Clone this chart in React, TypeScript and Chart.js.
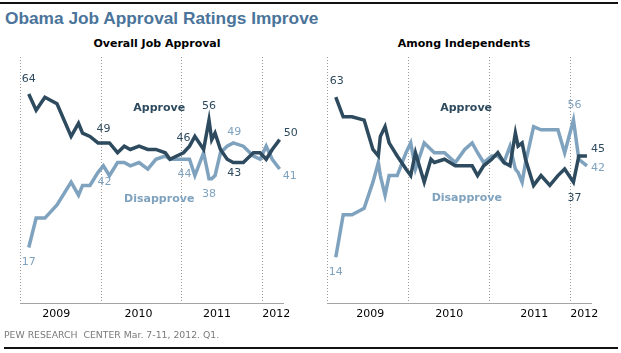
import React, { useEffect, useRef } from "react";
import { Chart, registerables } from "chart.js";
Chart.register(...registerables);

// ---- data (x = months since Jan 2009) ----
const yearLabels = ["2009", "2010", "2011", "2012"];
const yearBoundaries = [0, 12, 24, 36];
const overallYearTicks = [5.4, 17.6, 29.3, 38.1];
const indYearTicks = [6.4, 18.1, 30.7, 38.1];

const overallMonths = [1.3, 2.4, 3.7, 5.5, 7.6, 8.7, 9.3, 10.4, 11.6, 12.4, 13.3, 14.5, 15.5, 16.4, 17.7, 19.0, 20.2, 21.6, 22.3, 23.3, 24.3, 25.2, 26.0, 27.3, 28.1, 28.5, 29.0, 29.8, 30.8, 31.7, 33.2, 34.7, 35.7, 36.6, 37.5, 38.6];
const overallApprove = [64, 59, 63, 61, 51, 55, 52, 51, 49, 49, 49, 46, 48, 47, 48, 47, 47, 46, 44, 45, 46, 48, 51, 47, 56, 50, 52, 47, 44, 43, 43, 46, 46, 44, 47, 50];
const overallDisapprove = [17, 26, 26, 30, 37, 33, 36, 36, 40, 42, 39, 43, 43, 42, 43, 41, 44, 45, 44, 44, 44, 44, 39, 46, 38, 38, 39, 46, 48, 49, 48, 45, 44, 48, 44, 41];

const indMonths = [1.3, 2.4, 3.7, 5.5, 6.8, 7.6, 7.9, 8.6, 9.2, 10.4, 11.7, 12.4, 13.1, 14.4, 15.4, 15.9, 17.4, 19.0, 20.4, 21.5, 22.3, 23.2, 24.4, 25.3, 26.2, 27.1, 27.9, 28.3, 28.9, 29.4, 30.6, 31.7, 33.0, 34.2, 35.2, 36.5, 37.3, 38.5];
const indApprove = [63, 57, 57, 56, 47, 45, 51, 54, 49, 45, 41, 39, 46, 37, 44, 43, 44, 42, 42, 42, 39, 42, 44, 46, 43, 42, 52, 48, 49, 44, 36, 39, 36, 39, 41, 37, 45, 45];
const indDisapprove = [14, 27, 27, 29, 37, 43, 39, 33, 39, 39, 46, 49, 41, 49, 47, 46, 46, 43, 47, 49, 46, 43, 45, 45, 43, 48, 41, 40, 37, 43, 54, 53, 53, 53, 46, 56, 44, 42];

// ---- styles ----
const APPROVE_COLOR = "#2d4a5e";
const DISAPPROVE_COLOR = "#7fa2be";
const LABEL_FONT = '11px "DejaVu Sans"';
const NAME_FONT = 'bold 11px "DejaVu Sans"';

type PointLabel = { series: number; index: number; dx: number; dy: number };
type NameLabel = { text: string; series: number; x: number; y: number };

const overallPointLabels: PointLabel[] = [
  { series: 0, index: 0, dx: 0, dy: -15 },
  { series: 0, index: 9, dx: 0, dy: -14 },
  { series: 0, index: 20, dx: 0, dy: -15 },
  { series: 0, index: 24, dx: 0, dy: -14 },
  { series: 0, index: 29, dx: 1, dy: 11 },
  { series: 0, index: 35, dx: 11, dy: -7 },
  { series: 1, index: 0, dx: 0, dy: 15 },
  { series: 1, index: 9, dx: 1, dy: 16 },
  { series: 1, index: 20, dx: 1, dy: 15 },
  { series: 1, index: 24, dx: 0, dy: 15 },
  { series: 1, index: 29, dx: 1, dy: -11 },
  { series: 1, index: 35, dx: 10, dy: 7 },
];
const indPointLabels: PointLabel[] = [
  { series: 0, index: 0, dx: 1, dy: -16 },
  { series: 0, index: 35, dx: 1, dy: 16 },
  { series: 0, index: 37, dx: 11, dy: -7 },
  { series: 1, index: 0, dx: 0, dy: 15 },
  { series: 1, index: 35, dx: 1, dy: -15 },
  { series: 1, index: 37, dx: 11, dy: 2 },
];
const overallNames: NameLabel[] = [
  { text: "Approve", series: 0, x: 20.7, y: 59.6 },
  { text: "Disapprove", series: 1, x: 20.7, y: 31.8 },
];
const indNames: NameLabel[] = [
  { text: "Approve", series: 0, x: 20.6, y: 59.6 },
  { text: "Disapprove", series: 1, x: 20.7, y: 32.0 },
];

type PanelProps = {
  left: number;
  width: number;
  padLeft: number;
  padRight: number;
  months: number[];
  approve: number[];
  disapprove: number[];
  ticks: number[];
  pointLabels: PointLabel[];
  names: NameLabel[];
};

function Panel(p: PanelProps) {
  const ref = useRef<HTMLCanvasElement | null>(null);
  useEffect(() => {
    const canvas = ref.current;
    if (!canvas) return;
    const series = [p.approve, p.disapprove];
    const colors = [APPROVE_COLOR, DISAPPROVE_COLOR];
    const plugin = {
      id: "panelDecor",
      beforeDatasetsDraw(chart: any) {
        const { ctx, chartArea, scales } = chart;
        ctx.save();
        ctx.strokeStyle = "#9a9a9a";
        ctx.lineWidth = 1;
        ctx.setLineDash([1, 2]);
        yearBoundaries.forEach((b) => {
          const x = Math.round(scales.x.getPixelForValue(b)) + 0.5;
          ctx.beginPath();
          ctx.moveTo(x, chartArea.top - 1);
          ctx.lineTo(x, chartArea.bottom);
          ctx.stroke();
        });
        ctx.restore();
      },
      afterDatasetsDraw(chart: any) {
        const { ctx, scales } = chart;
        ctx.save();
        ctx.textAlign = "center";
        ctx.textBaseline = "middle";
        ctx.font = LABEL_FONT;
        p.pointLabels.forEach((l) => {
          const vals = series[l.series];
          const x = scales.x.getPixelForValue(p.months[l.index]) + l.dx;
          const y = scales.y.getPixelForValue(vals[l.index]) + l.dy;
          ctx.fillStyle = colors[l.series];
          ctx.fillText(String(vals[l.index]), x, y);
        });
        ctx.font = NAME_FONT;
        p.names.forEach((n) => {
          ctx.fillStyle = colors[n.series];
          ctx.fillText(n.text, scales.x.getPixelForValue(n.x), scales.y.getPixelForValue(n.y));
        });
        ctx.restore();
      },
    };
    const mk = (vals: number[]) => p.months.map((m, i) => ({ x: m, y: vals[i] }));
    const chart = new Chart(canvas, {
      type: "line",
      data: {
        datasets: [
          { data: mk(p.approve), borderColor: APPROVE_COLOR, borderWidth: 3.5, pointRadius: 0, tension: 0, fill: false, clip: false as any },
          { data: mk(p.disapprove), borderColor: DISAPPROVE_COLOR, borderWidth: 3.5, pointRadius: 0, tension: 0, fill: false, clip: false as any },
        ] as any,
      },
      options: {
        animation: false,
        responsive: false,
        devicePixelRatio: 1,
        layout: { padding: { left: p.padLeft, right: p.padRight, top: 58, bottom: 10 } },
        plugins: { legend: { display: false }, tooltip: { enabled: false }, title: { display: false } },
        scales: {
          x: {
            type: "linear",
            min: 0,
            max: 39.1,
            grid: { display: false, drawTicks: false },
            border: { display: true, color: "#a3a3a3", width: 1 },
            afterBuildTicks: (s: any) => {
              s.ticks = p.ticks.map((v) => ({ value: v }));
            },
            afterFit: (s: any) => {
              s.height = 40;
            },
            ticks: {
              autoSkip: false,
              maxRotation: 0,
              padding: 5,
              color: "#000",
              font: { family: "DejaVu Sans", size: 11 },
              callback: (_v: any, i: number) => yearLabels[i],
            },
          },
          y: { display: false, min: 0, max: 75 },
        },
      } as any,
      plugins: [plugin],
    });
    return () => chart.destroy();
  }, []);
  return (
    <canvas
      ref={ref}
      width={p.width}
      height={353}
      style={{ position: "absolute", left: p.left, top: 0, width: p.width, height: 353 }}
    />
  );
}

export default function App() {
  return (
    <div style={{ position: "absolute", left: 0, top: 0, width: 621, height: 353, background: "#fff", overflow: "hidden" }}>
      <div style={{ position: "absolute", left: 0, top: 2, width: 618, height: 2, background: "#111" }} />
      <div
        style={{
          position: "absolute", left: 5, top: 10, whiteSpace: "nowrap",
          font: 'bold 17.3px "Liberation Sans"', lineHeight: "17.3px", color: "#4a749a",
        }}
      >
        Obama Job Approval Ratings Improve
      </div>
      <div
        style={{
          position: "absolute", left: 57, width: 200, top: 38.4, textAlign: "center", whiteSpace: "nowrap",
          font: 'bold 11px "DejaVu Sans"', lineHeight: "11px", color: "#000",
        }}
      >
        Overall Job Approval
      </div>
      <div
        style={{
          position: "absolute", left: 364, width: 200, top: 38.4, textAlign: "center", whiteSpace: "nowrap",
          font: 'bold 11px "DejaVu Sans"', lineHeight: "11px", color: "#000",
        }}
      >
        Among Independents
      </div>
      <Panel left={0} width={310} padLeft={20} padRight={27} months={overallMonths} approve={overallApprove}
        disapprove={overallDisapprove} ticks={overallYearTicks} pointLabels={overallPointLabels} names={overallNames} />
      <Panel left={310} width={311} padLeft={17} padRight={30} months={indMonths} approve={indApprove}
        disapprove={indDisapprove} ticks={indYearTicks} pointLabels={indPointLabels} names={indNames} />
      <div
        style={{
          position: "absolute", left: 4, top: 330.4, whiteSpace: "pre",
          font: '9.3px "DejaVu Sans"', lineHeight: "9.3px", color: "#7a7a7a",
        }}
      >
        {"PEW RESEARCH  CENTER Mar. 7-11, 2012. Q1."}
      </div>
      <div style={{ position: "absolute", left: 4, top: 347, width: 614, height: 2, background: "#111" }} />
    </div>
  );
}
